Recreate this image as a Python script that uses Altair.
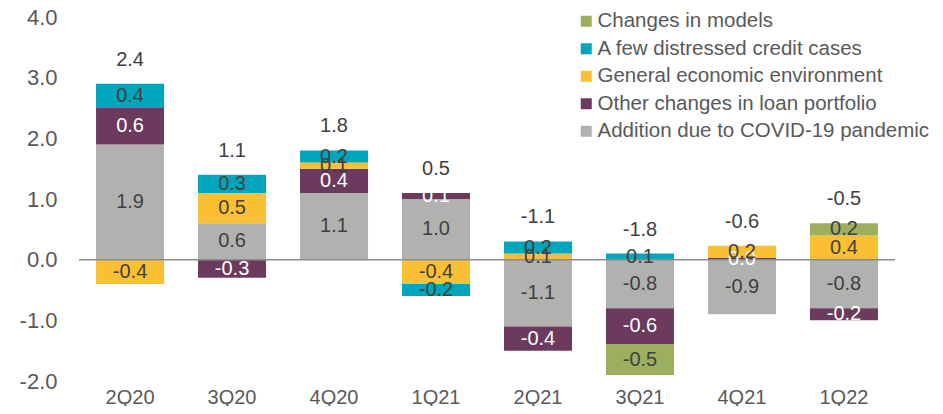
import altair as alt
import pandas as pd

quarters = ["2Q20", "3Q20", "4Q20", "1Q21", "2Q21", "3Q21", "4Q21", "1Q22"]

covid = [1.9, 0.6, 1.1, 1.0, -1.1, -0.8, -0.9, -0.8]
other = [0.6, -0.3, 0.4, 0.1, -0.4, -0.6, 0.03, -0.2]
general = [-0.4, 0.5, 0.1, -0.4, 0.1, None, 0.2, 0.4]
distressed = [0.4, 0.3, 0.2, -0.2, 0.2, 0.1, None, None]
models = [None, None, None, None, None, -0.5, None, 0.2]
totals = [2.4, 1.1, 1.8, 0.5, -1.1, -1.8, -0.6, -0.5]

series_names = [
    "Addition due to COVID-19 pandemic",
    "Other changes in loan portfolio",
    "General economic environment",
    "A few distressed credit cases",
    "Changes in models",
]
series_values = [covid, other, general, distressed, models]
series_colors = ["#B1B2AF", "#6B3A5D", "#FBBF33", "#00A6BB", "#9BAF5F"]

legend_order = series_names[::-1]
legend_colors = series_colors[::-1]

rows = []
for si, (name, vals) in enumerate(zip(series_names, series_values)):
    for q, v in zip(quarters, vals):
        if v is None:
            continue
        lab = f"{v:.1f}"
        if lab == "-0.0":
            lab = "0.0"
        rows.append({"quarter": q, "series": name, "value": v, "order": si, "label": lab})
df = pd.DataFrame(rows)

pos_top = []
for i, q in enumerate(quarters):
    s = sum(v[i] for v in series_values if v[i] is not None and v[i] > 0)
    pos_top.append(s)
df_tot = pd.DataFrame({"quarter": quarters, "top": pos_top,
                       "label": [f"{t:.1f}" for t in totals]})

FONT = "Liberation Sans"

xenc = alt.X("quarter:N", sort=quarters, title=None,
             scale=alt.Scale(paddingInner=0.333, paddingOuter=0.167),
             axis=alt.Axis(labelAngle=0, labelFontSize=20, labelColor="#595959",
                           labelFont=FONT, domain=False, ticks=False, labelPadding=6))
yscale = alt.Scale(domain=[-2, 4], nice=False)

base = alt.Chart(df).transform_stack(
    stack="value", groupby=["quarter"], as_=["y0", "y1"],
    sort=[alt.SortField("order", order="ascending")], offset="zero"
).transform_calculate(mid="(datum.y0 + datum.y1) / 2")

bars = base.mark_bar().encode(
    x=xenc,
    y=alt.Y("y0:Q", scale=yscale, title=None,
            axis=alt.Axis(values=[-2, -1, 0, 1, 2, 3, 4], grid=False, domain=False, ticks=False,
                          labelFontSize=22, labelColor="#595959", labelFont=FONT, labelPadding=22,
                          labelExpr="datum.value < 0 ? '-' + format(-datum.value, '.1f') : format(datum.value, '.1f')")),
    y2="y1:Q",
    color=alt.Color("series:N", scale=alt.Scale(domain=legend_order, range=legend_colors),
                    legend=alt.Legend(title=None, orient="none", legendX=497, legendY=-6,
                                      symbolType="square", symbolSize=121, symbolStrokeWidth=0,
                                      labelFontSize=20.5, labelFont=FONT, labelColor="#595959",
                                      labelLimit=0, labelOffset=1, rowPadding=6.5, padding=0)),
)

seg_text = base.mark_text(fontSize=20, font=FONT).encode(
    x=alt.X("quarter:N", sort=quarters),
    y=alt.Y("mid:Q", scale=yscale),
    text="label:N",
    color=alt.condition(alt.datum.series == "Other changes in loan portfolio",
                        alt.value("white"), alt.value("#404040")),
)

tot_text = alt.Chart(df_tot).mark_text(fontSize=20, font=FONT, color="#404040", dy=-24).encode(
    x=alt.X("quarter:N", sort=quarters),
    y=alt.Y("top:Q", scale=yscale),
    text="label:N",
)

zero = alt.Chart(pd.DataFrame({"y": [0]})).mark_rule(color="#8C8C8C", strokeWidth=1.5).encode(
    y=alt.Y("y:Q", scale=yscale)
)

chart = alt.layer(bars, zero, seg_text, tot_text).properties(
    width=816, height=364,
    autosize=alt.AutoSizeParams(type="none"),
    padding={"left": 71, "top": 9, "right": 40, "bottom": 25},
).configure_view(stroke=None)

chart.save("out.html", embed_options={"renderer": "svg", "actions": False})
